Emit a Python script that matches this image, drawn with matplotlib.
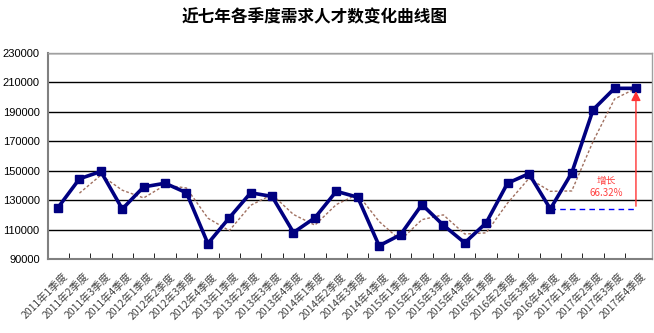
import numpy as np
import matplotlib.pyplot as plt

plt.rcParams['font.family'] = ['Noto Sans CJK SC', 'DejaVu Sans']

# quarter labels and demand values
years = [2011, 2012, 2013, 2014, 2015, 2016, 2017]
quarters = [f"{y}年{q}季度" for y in years for q in range(1, 5)]
demand = [125000, 144500, 149500, 124000, 139000, 141500, 135000, 100500,
          118000, 135000, 132500, 108000, 118000, 136000, 132000, 99000,
          106500, 127000, 113000, 101000, 114500, 141500, 148000, 124000,
          148500, 191500, 206000, 206000]
growth_label = "增长\n66.32%"

# 2-period moving average trendline
ma = [np.nan] + [(demand[i - 1] + demand[i]) / 2 for i in range(1, len(demand))]

fig = plt.figure(figsize=(6.54, 3.33), dpi=100)
ax = fig.add_axes([48 / 654, 1 - 259 / 333, 604 / 654, 206 / 333])

x = np.arange(len(quarters))
ax.plot(x, ma, color='#a07060', lw=1.0, ls=(0, (2, 1.5)), zorder=3)
ax.plot(x, demand, color='#000080', lw=2.6, marker='s', ms=5.5, zorder=4)

# growth annotation
base = demand[23]
last = len(demand) - 1
ax.plot([23, last], [base, base], color='#0000ff', lw=1.0, ls=(0, (4, 3)), zorder=2)
ax.annotate('', xy=(last, demand[-1]), xytext=(last, base),
            arrowprops=dict(arrowstyle='-|>', color='#ff3333', lw=1.0,
                            mutation_scale=14), zorder=5)
ax.text(25.6, 139000, growth_label, color='#ff4040', fontsize=7,
        ha='center', va='center', linespacing=1.2)

ax.set_ylim(90000, 230000)
ax.set_xlim(-0.47, 27.75)
ax.set_yticks(range(90000, 230001, 20000))
ax.yaxis.grid(True, color='#000000', lw=1.0)
ax.set_axisbelow(True)
ax.tick_params(axis='y', length=0, labelsize=8, pad=6)
for lbl in ax.get_yticklabels():
    lbl.set_family(['Liberation Sans', 'DejaVu Sans'])

ax.set_xticks(x + 0.2)
ax.set_xticklabels(quarters, rotation=45, ha='right', rotation_mode='anchor',
                   fontsize=7.5, color='#444444')
ax.tick_params(axis='x', which='major', length=0, pad=9)
ax.set_xticks(x[:-1] + 0.5, minor=True)
ax.tick_params(axis='x', which='minor', direction='in', length=4, color='#000000')

for side in ['left', 'bottom']:
    ax.spines[side].set_color('#808080')
    ax.spines[side].set_linewidth(1.5)
for side in ['top', 'right']:
    ax.spines[side].set_color('#a0a0a0')
    ax.spines[side].set_linewidth(1.0)

fig.text(315 / 654, 1 - 17 / 333, '近七年各季度需求人才数变化曲线图',
         fontsize=12, fontweight='bold', ha='center', va='center')

fig.savefig('out.png', dpi=100)
